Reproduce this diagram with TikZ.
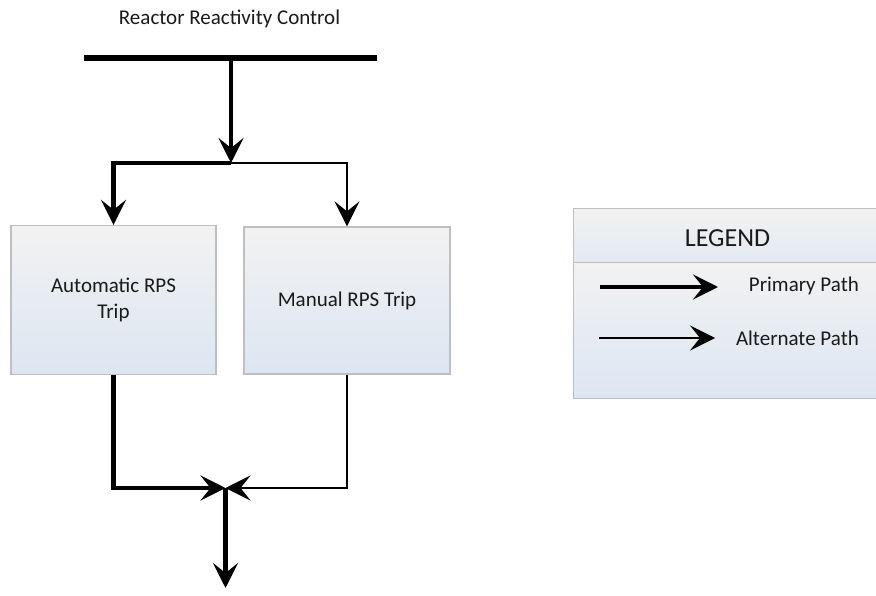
\documentclass[tikz,border=0pt]{standalone}
\usepackage{fontspec}
\setmainfont{Carlito}
\usetikzlibrary{arrows.meta}
\definecolor{boxedge}{HTML}{BFBFBF}
\definecolor{boxtop}{HTML}{F2F2F2}
\definecolor{boxbot}{HTML}{DCE6F2}
\definecolor{ink}{HTML}{1A1A1A}
\tikzset{
  >={Stealth[length=25pt,width=25pt,inset=10pt]},
  primary/.style={line width=4.2pt,black},
  alternate/.style={line width=2.2pt,black},
  bus/.style={line width=6.5pt,black},
  tripbox/.style={draw=boxedge,line width=1.3pt,top color=boxtop,bottom color=boxbot,
    inner sep=0pt,align=center,text=ink,font=\fontsize{21}{25.5}\selectfont},
  lbl/.style={text=ink,inner sep=0pt,font=\fontsize{21}{25.5}\selectfont},
}
\begin{document}
\begin{tikzpicture}[x=1pt,y=-1pt]
\useasboundingbox (0,0) rectangle (876,596);

% title and supply bus
\node[lbl] (title) at (229.5,19) {Reactor Reactivity Control};
\coordinate (busL) at (84,58);
\coordinate (busR) at (377,58);
\coordinate (busM) at (231,58);
\draw[bus] (busL) -- (busR);

% split point below the bus
\coordinate (split) at (231,163);

% trip boxes
\node[tripbox,minimum width=205pt,minimum height=149pt] (auto) at (113.5,300) {Automatic RPS\\Trip};
\node[tripbox,minimum width=206pt,minimum height=147pt] (man) at (347,300.5) {Manual RPS Trip};

% merge point and outlet
\coordinate (merge) at (225.5,488);
\coordinate (out) at (225.5,588);

% connectors
\draw[primary,->] (busM) -- (split);
\draw[primary,->] (split) -| (auto.north);
\draw[alternate,->] (split) -| (man.north);
\draw[primary,->] (auto.south) |- (merge);
\draw[alternate,->] (man.south) |- (merge);
\draw[primary,->] (merge) -- (out);

% legend (runs past the right edge of the page)
\node[draw=boxedge,line width=1.3pt,top color=boxtop,bottom color=boxbot!70!boxtop,
  minimum width=315pt,minimum height=54pt,inner sep=0pt,anchor=north west] (lhead) at (573,208) {};
\node[draw=boxedge,line width=1.3pt,top color=boxtop,bottom color=boxbot,
  minimum width=315pt,minimum height=136pt,inner sep=0pt,anchor=north west] (lbody) at (573,262) {};
\node[text=ink,inner sep=0pt,font=\fontsize{26}{30}\selectfont] (ltitle) at (727.5,238) {LEGEND};

\coordinate (pA) at (600,287);
\coordinate (pB) at (718,287);
\coordinate (aA) at (599,338);
\coordinate (aB) at (715,338);
\draw[primary,->] (pA) -- (pB);
\draw[alternate,->] (aA) -- (aB);
\node[lbl,anchor=east] (ptext) at (859,286) {Primary Path};
\node[lbl,anchor=east] (atext) at (859,338) {Alternate Path};
\end{tikzpicture}
\end{document}
